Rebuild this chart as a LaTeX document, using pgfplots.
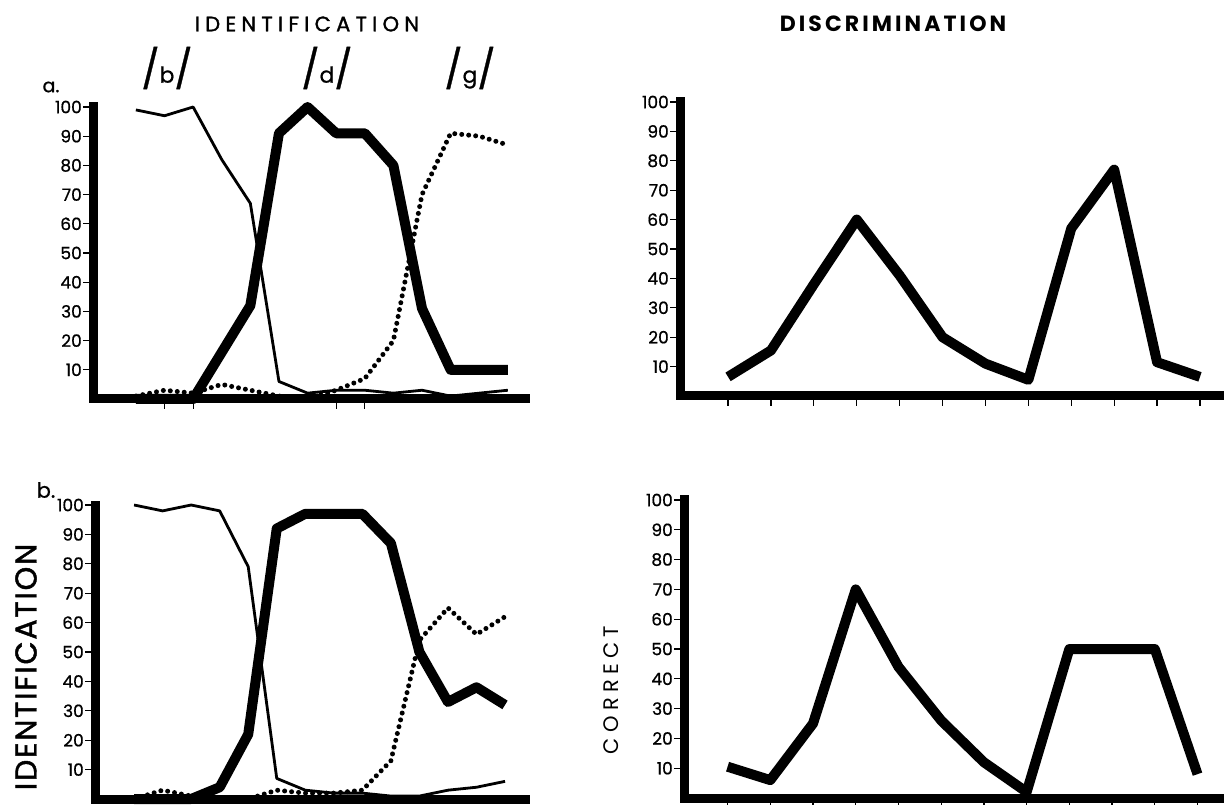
\documentclass[border=0pt]{standalone}
\usepackage{fontspec}
\setmainfont{Poppins}
\newfontfamily\tickfont[FakeBold=0.8]{Poppins}
\newfontfamily\spaced[LetterSpace=25]{Poppins}
\newfontfamily\spacedmed[LetterSpace=6, FakeBold=1.5]{Poppins}
\newfontfamily\spacedtitle[LetterSpace=25, FakeBold=1.5]{Poppins}
\newfontfamily\spacedbold[LetterSpace=14]{Poppins}
\usepackage{pgfplots}
\pgfplotsset{compat=1.18}

\pgfplotsset{
  panel/.style={
    scale only axis,
    axis lines=left,
    axis line style={-, line width=9pt, line cap=rect},
    ymin=0, ymax=100,
    ytick={10,20,...,100},
    tick align=outside,
    major tick length=10pt,
    tick style={black, line width=1.2pt},
    yticklabel style={font=\fontsize{17}{17}\tickfont, inner sep=1pt},
    /pgf/number format/assume math mode=true,
    xticklabels={},
    clip=false,
  },
  thickline/.style={black, line width=10pt, line join=round, no marks},
  thinline/.style={black, line width=2.8pt, line join=round, no marks},
  dotline/.style={black, line width=5pt, line cap=round, dash pattern=on 0pt off 7pt, no marks},
}

\begin{document}
\begin{tikzpicture}
\useasboundingbox (0pt,0pt) rectangle (1224pt,804pt);

% a. identification
\begin{axis}[panel, at={(93pt,405pt)}, anchor=south west,
  width=432pt, height=292pt, xmin=-1.5, xmax=13.6, xtick={1,2,7,8}]
\addplot[thinline] coordinates {(0,99) (1,97) (2,100) (3,82) (4,67) (5,6) (6,2) (7,3)
  (8,3) (9,2) (10,3) (11,1) (12,2) (13,3)};
\addplot[dotline] coordinates {(0,1) (1,3) (2,2) (3,5) (4,3) (5,1) (6,0) (7,3) (8,7)
  (9,20) (10,70) (11,91) (12,90) (13,87)};
\addplot[thickline] coordinates {(0,0) (1,0) (2,0) (3,16) (4,32) (5,91) (6,100) (7,91)
  (8,91) (9,80) (10,31) (11,10) (12,10) (13,10)};
\end{axis}

% a. discrimination
\begin{axis}[panel, at={(680pt,408pt)}, anchor=south west,
  width=544pt, height=294pt, xmin=-0.12, xmax=12.56, xtick={1,...,12}]
\addplot[thickline] coordinates {(1,6.5) (2,15.5) (3,38) (4,60) (5,41) (6,20) (7,11)
  (8,5.5) (9,57) (10,77) (11,11.5) (12,6.5)};
\end{axis}

% b. identification
\begin{axis}[panel, at={(95pt,5pt)}, anchor=south west,
  width=430pt, height=294pt, xmin=-1.37, xmax=13.7, xtick=\empty]
\addplot[thinline] coordinates {(0,100) (1,98) (2,100) (3,98) (4,79) (5,7) (6,3) (7,2)
  (8,2) (9,1) (10,1) (11,3) (12,4) (13,6)};
\addplot[dotline] coordinates {(0,0) (1,3) (2,1) (3,0) (4,0) (5,3) (6,2) (7,2) (8,3)
  (9,13) (10,54) (11,65) (12,56) (13,62)};
\addplot[thickline] coordinates {(0,0) (1,0) (2,0) (3,4) (4,22) (5,92) (6,97) (7,97)
  (8,97) (9,87) (10,50) (11,33) (12,38) (13,32)};
\end{axis}

% b. discrimination
\begin{axis}[panel, at={(684pt,6pt)}, anchor=south west,
  width=540pt, height=298pt, xmin=-0.02, xmax=12.62, xtick={1,...,12}]
\addplot[thickline] coordinates {(1,10.5) (2,6) (3,25) (4,70) (5,44) (6,26) (7,12)
  (8,2) (9,50) (10,50) (11,50) (12,8)};
\end{axis}

% titles and labels
\node[font=\fontsize{21}{21}\spacedtitle] at (307pt,780pt) {IDENTIFICATION};
\node[font=\fontsize{22}{22}\spacedbold\bfseries] at (893pt,780pt) {DISCRIMINATION};
\node[rotate=90, font=\fontsize{30}{30}\spacedmed] at (26pt,137pt) {IDENTIFICATION};
\node[rotate=90, font=\fontsize{21}{21}\spaced] at (611pt,114pt) {CORRECT};
\node[font=\fontsize{19}{19}\tickfont] at (51pt,717pt) {a.};
\node[font=\fontsize{21}{21}\tickfont] at (46pt,314pt) {b.};
\node[font=\fontsize{22}{22}\tickfont] at (167pt,736pt) {{\fontsize{38}{38}\selectfont/}b{\fontsize{38}{38}\selectfont/}};
\node[font=\fontsize{22}{22}\tickfont] at (327pt,736pt) {{\fontsize{38}{38}\selectfont/}d{\fontsize{38}{38}\selectfont/}};
\node[font=\fontsize{22}{22}\tickfont] at (470pt,736pt) {{\fontsize{38}{38}\selectfont/}g{\fontsize{38}{38}\selectfont/}};
\end{tikzpicture}
\end{document}
